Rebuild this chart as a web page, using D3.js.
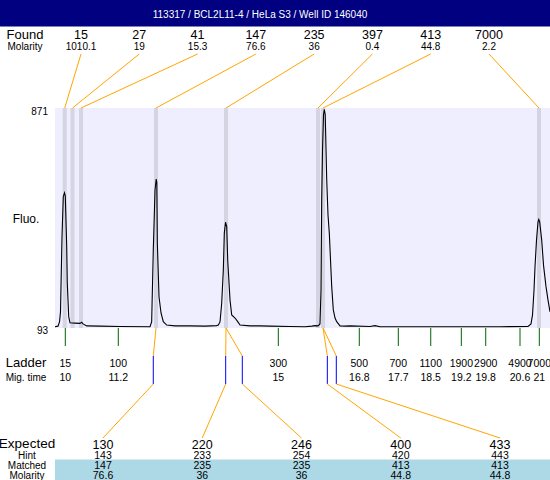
<!DOCTYPE html>
<html><head><meta charset="utf-8">
<script src="https://cdn.jsdelivr.net/npm/d3@7"></script>
<style>body{margin:0;background:#fff}svg{display:block;font-family:"Liberation Sans",Arial,sans-serif}</style>
</head><body><svg id="c" width="550" height="480"></svg>
<script>
const title = "113317 / BCL2L11-4 / HeLa S3 / Well ID 146040";
const foundSizes = ["15","27","41","147","235","397","413","7000"];
const foundMolarity = ["1010.1","19","15.3","76.6","36","0.4","44.8","2.2"];
const foundTimes = [9.975, 10.156, 10.354, 12.100, 13.730, 15.871, 15.988, 21.015];
const ladderSizes = ["15","100","300","500","700","1100","1900","2900","4900","7000"];
const ladderTimes = [9.989, 11.222, 14.947, 16.832, 17.740, 18.495, 19.207, 19.775, 20.573, 21.022];
const ladderTimeLabels = ["10","11.2","15","16.8","17.7","18.5","19.2","19.8","20.6","21"];
const expectedSizes = ["130","220","246","400","433"];
const expectedHint = ["143","233","254","420","443"];
const expectedMatched = ["147","235","235","413","413"];
const expectedMolarity = ["76.6","36","36","44.8","44.8"];
const expectedTimes = [12.037, 13.722, 14.109, 16.088, 16.297];
const expectedMatchIndex = [3, 4, 4, 6, 6];
const yTickLabels = [871, 93];
const traceTime = [9.749,9.819,9.854,9.877,9.912,9.942,9.970,9.989,10.021,10.035,10.068,10.098,10.214,10.331,10.370,10.401,10.487,10.797,11.262,11.960,
  11.999,12.037,12.077,12.105,12.119,12.131,12.170,12.217,12.270,12.349,12.543,12.892,13.240,
  13.513,13.550,13.590,13.629,13.667,13.690,13.718,13.746,13.769,13.823,13.862,13.939,14.002,14.056,14.288,14.521,14.754,15.219,15.568,
  15.731,15.801,15.871,15.917,15.941,15.957,15.976,15.999,16.018,16.039,16.074,16.104,16.134,16.162,16.190,16.227,16.267,16.306,16.383,16.499,16.616,
  17.081,17.198,17.314,18.245,19.176,20.107,20.759,20.829,20.864,20.899,20.922,20.957,20.992,21.010,21.031,21.078,21.120,21.178,21.225,21.271];
const traceFluo = [94,96,111,147,415,558,572,560,382,250,130,108,107,106,110,104,97,96,95,94,
  111,368,582,621,608,393,201,143,112,100,97,97,96,
  98,100,111,178,296,428,467,451,332,189,136,125,112,100,97,97,96,95,94,
  96,98,97,104,225,546,725,850,870,850,617,492,428,332,237,154,125,112,97,96,97,
  95,98,94,94,94,94,95,104,136,225,308,403,468,477,468,403,314,237,189,147];

const svg = d3.select("#c");
const x = d3.scaleLinear().domain([9.749, 21.271]).range([55, 550]);
const y = d3.scaleLinear().domain([93, 871]).range([327, 109]);
const fx = d3.scalePoint().domain(d3.range(foundSizes.length)).range([81, 489]);
const ex = d3.scalePoint().domain(d3.range(expectedSizes.length)).range([103, 500]);
const PT = 108, PB = 328;
const ORANGE = "#FFA500";

// header
svg.append("rect").attr("x",0).attr("y",0).attr("width",550).attr("height",26.5).attr("fill","#000080");
svg.append("text").attr("x",260).attr("y",18).attr("text-anchor","middle").attr("fill","#fff")
  .attr("font-size",10).text(title);

function txt(xp, yp, s, size){
  return svg.append("text").attr("x",xp).attr("y",yp).attr("text-anchor","middle").attr("font-size",size).attr("fill","#000").text(s);
}

// found rows
txt(25, 39, "Found", 13);
txt(25, 50, "Molarity", 10);
foundSizes.forEach((s,i)=>{ txt(fx(i), 39, s, 12.5); txt(fx(i), 50, foundMolarity[i], 10); });

// plot background
svg.append("rect").attr("x",55).attr("y",PT).attr("width",495).attr("height",PB-PT).attr("fill","#EEEEFE");
// peak bands
svg.selectAll("rect.band").data(foundTimes).enter().append("rect").attr("class","band")
  .attr("x",d=>x(d)-2).attr("y",PT).attr("width",4).attr("height",PB-PT).attr("fill","#D4D4E2");

// orange connectors to found labels
svg.selectAll("line.fo").data(foundTimes).enter().append("line")
  .attr("x1",(d,i)=>fx(i)).attr("y1",54).attr("x2",d=>x(d)).attr("y2",PT)
  .attr("stroke",ORANGE).attr("stroke-width",1);

// trace
const pts = traceTime.map((t,i)=>[t, traceFluo[i]]);
svg.append("path").datum(pts).attr("fill","none").attr("stroke","#000").attr("stroke-width",1.1)
  .attr("d", d3.line().x(d=>x(d[0])).y(d=>y(d[1])));

// y labels
svg.append("text").attr("x",48).attr("y",y(yTickLabels[0])+6).attr("text-anchor","end").attr("font-size",10).text(yTickLabels[0]);
svg.append("text").attr("x",48).attr("y",y(yTickLabels[1])+7).attr("text-anchor","end").attr("font-size",10).text(yTickLabels[1]);
txt(26, 223, "Fluo.", 12);

// ladder
svg.selectAll("line.lad").data(ladderTimes).enter().append("line")
  .attr("x1",d=>x(d)).attr("x2",d=>x(d)).attr("y1",PB).attr("y2",346)
  .attr("stroke","#006400").attr("stroke-width",1);
txt(26, 367, "Ladder", 13);
txt(26, 381, "Mig. time", 10);
ladderSizes.forEach((s,i)=>{ txt(x(ladderTimes[i]), 367, s, 10.5); txt(x(ladderTimes[i]), 381, ladderTimeLabels[i], 10.5); });

// expected connectors
expectedTimes.forEach((t,i)=>{
  svg.append("line").attr("x1",x(foundTimes[expectedMatchIndex[i]])).attr("y1",PB).attr("x2",x(t)).attr("y2",356)
    .attr("stroke",ORANGE).attr("stroke-width",1);
  svg.append("line").attr("x1",x(t)).attr("x2",x(t)).attr("y1",356).attr("y2",384)
    .attr("stroke","#0000FF").attr("stroke-width",1);
  svg.append("line").attr("x1",x(t)).attr("y1",384).attr("x2",ex(i)).attr("y2",438)
    .attr("stroke",ORANGE).attr("stroke-width",1);
});

// expected table
svg.append("rect").attr("x",55).attr("y",459.5).attr("width",495).attr("height",20.5).attr("fill","#ADD8E6");
txt(27, 448, "Expected", 13.5);
txt(27, 458.5, "Hint", 10);
txt(27, 468.5, "Matched", 10);
txt(27, 478.5, "Molarity", 10);
expectedSizes.forEach((s,i)=>{
  txt(ex(i), 448.5, s, 12.5);
  txt(ex(i), 458.5, expectedHint[i], 10.5);
  txt(ex(i), 468.5, expectedMatched[i], 10.5);
  txt(ex(i), 478.5, expectedMolarity[i], 10.5);
});
</script></body></html>
